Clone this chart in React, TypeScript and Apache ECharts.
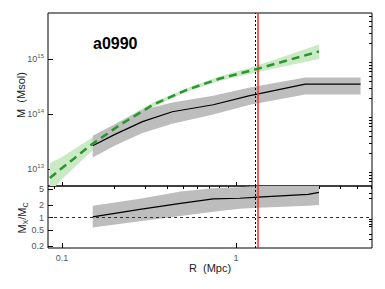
import React, { useEffect, useRef } from "react";
import * as echarts from "echarts";

// ---- data ----
const blackR = [0.15, 0.2, 0.29, 0.43, 0.74, 1.2, 2.5, 5.2];
const blackM = [2.7e13, 4.3e13, 7.4e13, 1.12e14, 1.5e14, 2.2e14, 3.55e14, 3.55e14];
const blackLo = [1.65e13, 2.7e13, 4.6e13, 6.8e13, 1.0e14, 1.5e14, 2.3e14, 2.3e14];
const blackHi = [4.1e13, 6.6e13, 1.2e14, 1.65e14, 2.2e14, 3.1e14, 4.7e14, 4.7e14];

const greenR = [0.085, 0.1, 0.147, 0.216, 0.333, 0.521, 0.809, 1.315, 3.0];
const greenM = [7.0e12, 1.06e13, 2.8e13, 6.5e13, 1.5e14, 2.8e14, 4.5e14, 6.7e14, 1.4e15];
const greenLo = [3.8e12, 6.7e12, 2.1e13, 5.5e13, 1.37e14, 2.6e14, 4.1e14, 5.85e14, 1.02e15];
const greenHi = [1.3e13, 1.68e13, 3.7e13, 7.6e13, 1.65e14, 3.0e14, 4.95e14, 7.7e14, 1.88e15];

const ratioR = [0.15, 0.28, 0.48, 0.74, 1.05, 1.34, 2.6, 3.0];
const ratio = [1.05, 1.6, 2.25, 2.9, 3.0, 3.2, 3.75, 4.2];
const ratioLo = [0.57, 0.82, 1.1, 1.4, 1.65, 1.75, 1.95, 2.05];
const ratioHi = [1.95, 2.9, 4.4, 5.3, 5.6, 6.0, 7.2, 8.5];

const rRed = 1.34;
const rDotted = 1.29;
const ratioRef = 1;

const xTickLabels = [0.1, 1];
const xMinorTicks = [0.09, 0.2, 0.3, 0.4, 0.5, 0.6, 0.7, 0.8, 0.9, 2, 3, 4, 5, 6];
const mTickLabels = [1e13, 1e14, 1e15];
const mMinorTicks = [
  6e12, 7e12, 8e12, 9e12,
  2e13, 3e13, 4e13, 5e13, 6e13, 7e13, 8e13, 9e13,
  2e14, 3e14, 4e14, 5e14, 6e14, 7e14, 8e14, 9e14,
  2e15, 3e15, 4e15, 5e15, 6e15,
];
const ratioTickLabels = [0.2, 0.5, 1, 2, 5];
const ratioMinorTicks = [0.3, 0.4, 0.6, 0.7, 0.8, 0.9, 3, 4];

const xMin = 0.083, xMax = 6.05;
const mMin = 5e12, mMax = 7e15;
const qMin = 0.18, qMax = 6;

const FONT = "Liberation Sans";

function band(xs: number[], lo: number[], hi: number[], xi: number, yi: number, color: string, z: number) {
  return {
    type: "custom",
    xAxisIndex: xi,
    yAxisIndex: yi,
    z,
    clip: true,
    silent: true,
    data: xs.map((x, i) => [x, lo[i]]),
    renderItem: (params: any, api: any) => {
      if (params.dataIndex !== 0) return null;
      const pts: number[][] = [];
      for (let i = 0; i < xs.length; i++) pts.push(api.coord([xs[i], hi[i]]));
      for (let i = xs.length - 1; i >= 0; i--) pts.push(api.coord([xs[i], lo[i]]));
      const cs = params.coordSys;
      return {
        type: "polygon",
        shape: { points: pts },
        style: { fill: color, stroke: null },
        clipPath: { type: "rect", shape: { x: cs.x, y: cs.y, width: cs.width, height: cs.height } },
      };
    },
  };
}

const zip = (a: number[], b: number[]) => a.map((v, i) => [v, b[i]]);

export default function App() {
  const ref = useRef<HTMLDivElement>(null);
  useEffect(() => {
    document.body.style.margin = "0";
    const chart = echarts.init(ref.current!, null, { renderer: "svg" });
    const logBase = { type: "log", logBase: 10, splitLine: { show: false }, axisLine: { show: false } };
    const tickStyle = { color: "#000", width: 1 };
    const vLines = [
      { xAxis: rDotted, lineStyle: { color: "#000", type: [2, 2], width: 1 } },
      { xAxis: rRed, lineStyle: { color: "#ff2a2a", type: "solid", width: 1.5 } },
    ];
    const option: any = {
      animation: false,
      backgroundColor: "#fff",
      grid: [
        { left: 48, top: 13, width: 324, height: 173, show: true, borderColor: "#000", borderWidth: 1, backgroundColor: "transparent" },
        { left: 48, top: 186, width: 324, height: 62, show: true, borderColor: "#000", borderWidth: 1, backgroundColor: "transparent" },
      ],
      xAxis: [
        { ...logBase, gridIndex: 0, min: xMin, max: xMax, axisLabel: { show: false },
          axisTick: { show: true, inside: true, length: 4, customValues: xTickLabels, lineStyle: tickStyle } },
        { ...logBase, gridIndex: 1, min: xMin, max: xMax,
          axisLabel: { show: true, customValues: xTickLabels, formatter: (v: number) => String(Number(v.toPrecision(3))),
            fontSize: 9, fontFamily: FONT, color: "#555", margin: 5 },
          axisTick: { show: true, inside: true, length: 5, customValues: xTickLabels, lineStyle: tickStyle } },
        { ...logBase, gridIndex: 1, min: xMin, max: xMax, axisLabel: { show: false },
          axisTick: { show: true, inside: true, length: 3, customValues: xMinorTicks, lineStyle: tickStyle } },
      ],
      yAxis: [
        { ...logBase, gridIndex: 0, min: mMin, max: mMax,
          axisLabel: { show: true, customValues: mTickLabels, margin: 4,
            formatter: (v: number) => `{b|10}{s|${Math.round(Math.log10(v))}}`,
            rich: {
              b: { fontSize: 9, fontFamily: FONT, color: "#555", lineHeight: 12, verticalAlign: "middle" },
              s: { fontSize: 6, fontFamily: FONT, color: "#555", lineHeight: 6, verticalAlign: "top" },
            } },
          axisTick: { show: true, inside: true, length: 5, customValues: mTickLabels, lineStyle: tickStyle } },
        { ...logBase, gridIndex: 0, min: mMin, max: mMax, axisLabel: { show: false },
          axisTick: { show: true, inside: true, length: 3, customValues: mMinorTicks, lineStyle: tickStyle } },
        { ...logBase, gridIndex: 1, min: qMin, max: qMax,
          axisLabel: { show: true, customValues: ratioTickLabels, margin: 4,
            formatter: (v: number) => String(Number(v.toPrecision(3))),
            fontSize: 9, fontFamily: FONT, color: "#555" },
          axisTick: { show: true, inside: true, length: 5, customValues: ratioTickLabels, lineStyle: tickStyle } },
        { ...logBase, gridIndex: 1, min: qMin, max: qMax, axisLabel: { show: false },
          axisTick: { show: true, inside: true, length: 3, customValues: ratioMinorTicks, lineStyle: tickStyle } },
      ],
      series: [
        band(greenR, greenLo, greenHi, 0, 0, "#c9eac4", 1),
        band(blackR, blackLo, blackHi, 0, 0, "#bdbdbd", 2),
        {
          type: "line", xAxisIndex: 0, yAxisIndex: 0, z: 3, symbol: "none", silent: true,
          data: zip(blackR, blackM), lineStyle: { color: "#000", width: 1.2 },
        },
        {
          type: "line", xAxisIndex: 0, yAxisIndex: 0, z: 5, symbol: "none", silent: true,
          data: zip(greenR, greenM), lineStyle: { color: "#2a962e", width: 2.5, type: [8, 5] },
          markLine: { silent: true, symbol: "none", label: { show: false }, data: vLines },
        },
        band(ratioR, ratioLo, ratioHi, 1, 2, "#bdbdbd", 2),
        {
          type: "line", xAxisIndex: 1, yAxisIndex: 2, z: 4, symbol: "none", silent: true,
          data: zip(ratioR, ratio), lineStyle: { color: "#000", width: 1.2 },
          markLine: {
            silent: true, symbol: "none", label: { show: false },
            data: [
              { yAxis: ratioRef, lineStyle: { color: "#333", type: [3, 3], width: 1 } },
              ...vLines,
            ],
          },
        },
      ],
      graphic: [
        { type: "text", x: 93, y: 43, z: 10,
          style: { text: "a0990", fontSize: 16, fontWeight: "bold", fontFamily: FONT, fill: "#000", verticalAlign: "middle" } },
        { type: "text", x: 21, y: 95, rotation: Math.PI / 2, z: 10,
          style: { text: "M  (Msol)", fontSize: 11, fontFamily: FONT, fill: "#222", align: "center", verticalAlign: "middle" } },
        { type: "text", x: 22, y: 218, rotation: Math.PI / 2, z: 10,
          style: {
            text: "{n|M}{s|X}{n|/M}{s|C}", align: "center", verticalAlign: "middle",
            rich: {
              n: { fontSize: 11, fontFamily: FONT, fill: "#222", color: "#222", lineHeight: 14, verticalAlign: "middle" },
              s: { fontSize: 7, fontFamily: FONT, fill: "#222", color: "#222", lineHeight: 8, verticalAlign: "bottom" },
            },
          } },
        { type: "text", x: 210, y: 268, z: 10,
          style: { text: "R  (Mpc)", fontSize: 11, fontFamily: FONT, fill: "#222", align: "center", verticalAlign: "middle" } },
      ],
    };
    chart.setOption(option);
    return () => chart.dispose();
  }, []);
  return <div ref={ref} style={{ width: 385, height: 289 }} />;
}
